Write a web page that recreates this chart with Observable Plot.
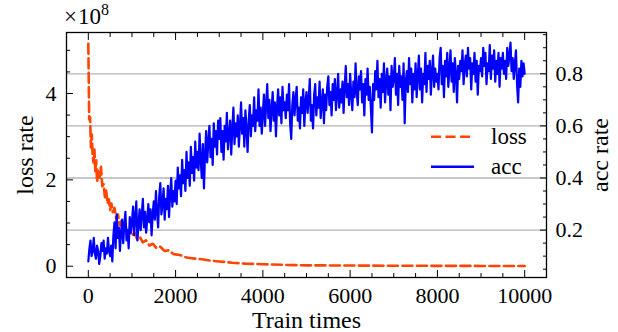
<!DOCTYPE html>
<html>
<head>
<meta charset="utf-8">
<script src="https://cdn.jsdelivr.net/npm/d3@7"></script>
<script src="https://cdn.jsdelivr.net/npm/@observablehq/plot@0.6"></script>
<style>
  body { margin: 0; background: #fff; }
  #wrap { position: relative; width: 618px; height: 332px; font-family: "Liberation Serif", "DejaVu Serif", serif; color: #000; }
  #mult { position: absolute; left: 64px; top: 4px; font-size: 23px; line-height: 26px; white-space: nowrap; }
  #mult .x { margin-right: 1px; }
  #mult sup { font-size: 16px; vertical-align: 9px; line-height: 0; }
  #legend { position: absolute; left: 420px; top: 120px; }
</style>
</head>
<body>
<div id="wrap"></div>
<script>
// ---------- data ----------
// loss (in units of 1e8)
const lossSteps = [0, 20, 40, 60, 80, 100, 120, 140, 160, 180, 200, 230, 260, 290, 320, 350, 380, 410, 440, 470,
  500, 530, 560, 600, 640, 680, 720, 760, 800, 850, 900, 950, 1000, 1060, 1120, 1180, 1250, 1320, 1400, 1480,
  1560, 1650, 1750, 1850, 1950, 2100, 2250, 2400, 2600, 2800, 3000, 3300, 3600, 4000, 4500, 5000, 6000, 7000, 8000, 9000, 10000];
const lossValues = [5.15, 3.40, 3.45, 2.75, 3.05, 2.55, 2.40, 2.70, 2.20, 2.45, 1.95, 2.25, 2.05, 2.30, 1.85, 1.90, 1.60, 1.75, 1.45, 1.55,
  1.30, 1.45, 1.25, 1.35, 1.10, 1.20, 0.95, 1.05, 0.85, 0.95, 0.75, 0.85, 0.70, 0.78, 0.62, 0.68, 0.55, 0.60, 0.48, 0.52,
  0.42, 0.45, 0.35, 0.37, 0.28, 0.26, 0.20, 0.18, 0.16, 0.13, 0.11, 0.08, 0.06, 0.045, 0.03, 0.02, 0.015, 0.01, 0.008, 0.006, 0.005];

// acc, one value every 25 train steps
const accSteps = d3.range(0, 10001, 25);
const accValues = [
  0.08, 0.13, 0.16, 0.10, 0.12, 0.17, 0.11, 0.09, 0.14, 0.12, 0.07, 0.10, 0.15, 0.12, 0.16, 0.09, 0.13, 0.11, 0.17, 0.12,
  0.10, 0.14, 0.08, 0.18, 0.23, 0.13, 0.26, 0.17, 0.21, 0.12, 0.19, 0.24, 0.15, 0.22, 0.27, 0.16, 0.20, 0.13, 0.25, 0.19,
  0.23, 0.29, 0.18, 0.25, 0.31, 0.16, 0.22, 0.28, 0.20, 0.26, 0.32, 0.21, 0.27, 0.19, 0.24, 0.30, 0.23, 0.28, 0.18, 0.26,
  0.31, 0.24, 0.35, 0.27, 0.21, 0.33, 0.38, 0.26, 0.30, 0.36, 0.24, 0.32, 0.28, 0.37, 0.25, 0.34, 0.40, 0.29, 0.35, 0.31,
  0.39, 0.30, 0.44, 0.36, 0.41, 0.33, 0.47, 0.38, 0.43, 0.35, 0.50, 0.40, 0.46, 0.37, 0.52, 0.42, 0.48, 0.39, 0.54, 0.44,
  0.50, 0.43, 0.57, 0.47, 0.40, 0.53, 0.36, 0.49, 0.58, 0.46, 0.54, 0.60, 0.48, 0.55, 0.45, 0.61, 0.52, 0.58, 0.49, 0.62,
  0.55, 0.63, 0.50, 0.58, 0.47, 0.60, 0.54, 0.65, 0.51, 0.57, 0.62, 0.49, 0.59, 0.67, 0.53, 0.61, 0.56, 0.64, 0.52, 0.60,
  0.69, 0.57, 0.63, 0.52, 0.66, 0.59, 0.50, 0.62, 0.68, 0.56, 0.64, 0.60, 0.71, 0.58, 0.66, 0.62, 0.74, 0.60, 0.67, 0.57,
  0.65, 0.72, 0.60, 0.68, 0.76, 0.63, 0.70, 0.58, 0.66, 0.73, 0.62, 0.69, 0.56, 0.67, 0.74, 0.64, 0.71, 0.61, 0.75, 0.66,
  0.69, 0.63, 0.72, 0.66, 0.76, 0.61, 0.55, 0.68, 0.73, 0.64, 0.70, 0.75, 0.62, 0.67, 0.59, 0.71, 0.65, 0.74, 0.60, 0.69,
  0.73, 0.65, 0.70, 0.78, 0.62, 0.68, 0.59, 0.72, 0.76, 0.64, 0.71, 0.67, 0.77, 0.63, 0.69, 0.74, 0.61, 0.72, 0.66, 0.75,
  0.79, 0.68, 0.73, 0.64, 0.76, 0.70, 0.78, 0.66, 0.72, 0.80, 0.67, 0.74, 0.69, 0.77, 0.65, 0.75, 0.83, 0.71, 0.76, 0.68,
  0.80, 0.72, 0.66, 0.77, 0.71, 0.84, 0.73, 0.68, 0.79, 0.74, 0.81, 0.69, 0.76, 0.64, 0.78, 0.72, 0.82, 0.70, 0.75, 0.67,
  0.575, 0.76, 0.70, 0.81, 0.74, 0.85, 0.71, 0.78, 0.67, 0.80, 0.73, 0.84, 0.69, 0.77, 0.82, 0.72, 0.79, 0.66, 0.83, 0.75,
  0.78, 0.86, 0.72, 0.80, 0.68, 0.83, 0.75, 0.79, 0.70, 0.84, 0.61, 0.77, 0.81, 0.73, 0.86, 0.76, 0.82, 0.69, 0.80, 0.74,
  0.84, 0.71, 0.79, 0.87, 0.74, 0.82, 0.69, 0.80, 0.76, 0.88, 0.73, 0.83, 0.78, 0.85, 0.72, 0.81, 0.87, 0.75, 0.82, 0.77,
  0.80, 0.74, 0.86, 0.90, 0.76, 0.83, 0.71, 0.85, 0.79, 0.88, 0.75, 0.82, 0.89, 0.77, 0.84, 0.73, 0.86, 0.80, 0.69, 0.83,
  0.78, 0.85, 0.81, 0.89, 0.76, 0.83, 0.87, 0.79, 0.90, 0.82, 0.86, 0.74, 0.84, 0.80, 0.88, 0.77, 0.85, 0.72, 0.83, 0.81,
  0.86, 0.79, 0.90, 0.83, 0.88, 0.76, 0.84, 0.81, 0.91, 0.78, 0.87, 0.82, 0.89, 0.77, 0.85, 0.80, 0.88, 0.75, 0.86, 0.82,
  0.88, 0.80, 0.85, 0.78, 0.90, 0.83, 0.87, 0.92, 0.81, 0.86, 0.78, 0.84, 0.89, 0.76, 0.69, 0.82, 0.75, 0.85, 0.79, 0.84,
  0.80
];

// tick values
const xMajor = [0, 2000, 4000, 6000, 8000, 10000];
const xMinor = [500, 1000, 1500, 2500, 3000, 3500, 4500, 5000, 5500, 6500, 7000, 7500, 8500, 9000, 9500];
const lossMajor = [0, 2, 4];
const lossMinor = [0.5, 1, 1.5, 2.5, 3, 3.5, 4.5, 5];
const accMajor = [0.2, 0.4, 0.6, 0.8];
const accMinor = [0.05, 0.1, 0.15, 0.25, 0.3, 0.35, 0.45, 0.5, 0.55, 0.65, 0.7, 0.75, 0.85, 0.9, 0.95];

const xDomain = [-500, 10500];
const lossDomain = [-0.262, 5.413];
const accDomain = [0.018, 0.9585];

// ---------- build ----------
const [L0, L1] = lossDomain, [A0, A1] = accDomain;
const toL = a => L0 + (a - A0) * (L1 - L0) / (A1 - A0);
const toA = l => A0 + (l - L0) * (A1 - A0) / (L1 - L0);

const lossData = lossSteps.map((t, i) => ({t, v: lossValues[i]}));
const accData = accSteps.map((t, i) => ({t, v: toL(accValues[i])}));

const blank = () => "";
const fmtAcc = d3.format(".1f");
const FONT = '"Liberation Serif", "DejaVu Serif", serif';

const chart = Plot.plot({
  width: 618, height: 332,
  marginLeft: 66, marginRight: 72, marginTop: 32, marginBottom: 55,
  style: {fontFamily: FONT, fontSize: "22px", color: "#000", background: "white", overflow: "visible"},
  x: {domain: xDomain},
  y: {domain: lossDomain},
  marks: [
    Plot.gridY({ticks: accMajor.map(toL), stroke: "#b4b4b4", strokeOpacity: 1, strokeWidth: 1.3}),
    Plot.line(lossData, {x: "t", y: "v", stroke: "#ff4500", strokeWidth: 2.6, strokeDasharray: "10,4.5"}),
    Plot.line(accData, {x: "t", y: "v", stroke: "#0000ff", strokeWidth: 2.2}),
    Plot.frame({stroke: "#000", strokeWidth: 1.3}),
    // bottom axis
    Plot.axisX({anchor: "bottom", ticks: xMajor, tickSize: -7, tickPadding: 17, tickFormat: d => String(d), label: null}),
    Plot.axisX({anchor: "bottom", ticks: xMinor, tickSize: -4, tickFormat: blank, label: null}),
    // top axis (ticks only)
    Plot.axisX({anchor: "top", ticks: xMajor, tickSize: -7, tickFormat: blank, label: null}),
    Plot.axisX({anchor: "top", ticks: xMinor, tickSize: -4, tickFormat: blank, label: null}),
    // left axis (loss)
    Plot.axisY({anchor: "left", ticks: lossMajor, tickSize: -7, tickPadding: 17, tickFormat: d => String(d), label: null}),
    Plot.axisY({anchor: "left", ticks: lossMinor, tickSize: -4, tickFormat: blank, label: null}),
    // right axis (acc)
    Plot.axisY({anchor: "right", ticks: accMajor.map(toL), tickSize: -7, tickPadding: 16, tickFormat: d => fmtAcc(toA(d)), label: null}),
    Plot.axisY({anchor: "right", ticks: accMinor.map(toL), tickSize: -4, tickFormat: blank, label: null}),
    // axis titles
    Plot.axisX({anchor: "bottom", ticks: [], tickSize: 0, label: "Train times", labelAnchor: "center", labelArrow: "none", labelOffset: 50, fontSize: 24}),
    Plot.axisY({anchor: "left", ticks: [], tickSize: 0, label: "loss rate", labelAnchor: "center", labelArrow: "none", labelOffset: 51, fontSize: 24}),
    Plot.axisY({anchor: "right", ticks: [], tickSize: 0, label: "acc rate", labelAnchor: "center", labelArrow: "none", labelOffset: 61, fontSize: 24})
  ]
});

const wrap = document.getElementById("wrap");
wrap.appendChild(chart);

// scale factor label
const mult = document.createElement("div");
mult.id = "mult";
mult.innerHTML = '<span class="x">×</span>10<sup>8</sup>';
wrap.appendChild(mult);

// legend
const legendItems = [
  {name: "loss", color: "#ff4500", dash: "10,4.5", width: 2.6},
  {name: "acc", color: "#0000ff", dash: null, width: 2.4}
];
const ns = "http://www.w3.org/2000/svg";
const lg = document.createElementNS(ns, "svg");
lg.setAttribute("id", "legend");
lg.setAttribute("width", 120);
lg.setAttribute("height", 70);
lg.style.fontFamily = FONT;
lg.style.fontSize = "23px";
legendItems.forEach((it, i) => {
  const y = 16.7 + i * 30;
  const ln = document.createElementNS(ns, "line");
  ln.setAttribute("x1", 11); ln.setAttribute("x2", 54);
  ln.setAttribute("y1", y); ln.setAttribute("y2", y);
  ln.setAttribute("stroke", it.color);
  ln.setAttribute("stroke-width", it.width);
  if (it.dash) ln.setAttribute("stroke-dasharray", it.dash);
  lg.appendChild(ln);
  const tx = document.createElementNS(ns, "text");
  tx.setAttribute("x", 71);
  tx.setAttribute("y", y + 7);
  tx.textContent = it.name;
  lg.appendChild(tx);
});
wrap.appendChild(lg);
</script>
</body>
</html>
